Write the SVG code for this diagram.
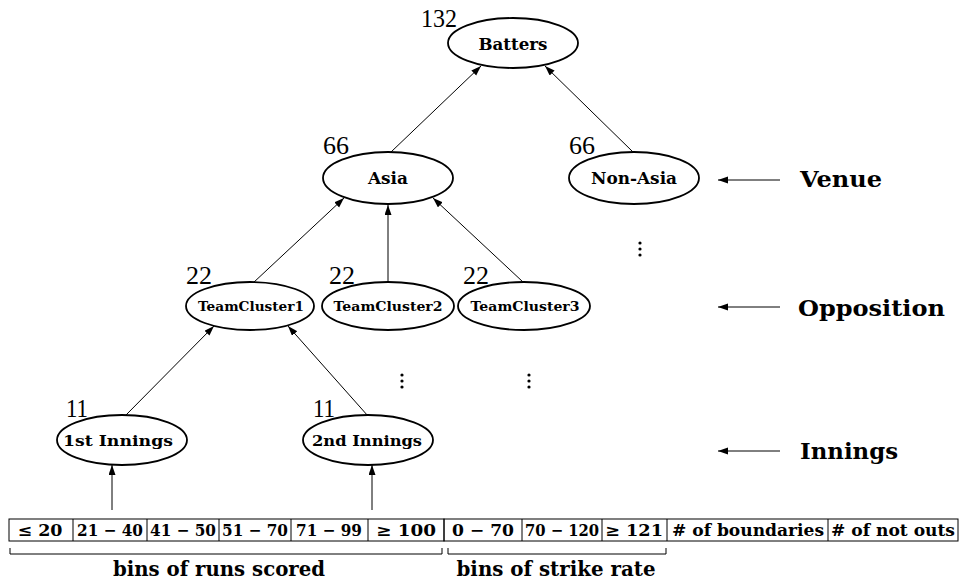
<svg xmlns="http://www.w3.org/2000/svg" width="959" height="581" viewBox="0 0 959 581">
<style>
.node{fill:#fff;stroke:#000;stroke-width:1.8}
.lbl{font-family:"DejaVu Serif","Liberation Serif",serif;font-weight:bold;fill:#000;text-anchor:middle}
.num{font-family:"Liberation Serif","DejaVu Serif",serif;font-size:25px;fill:#000}
.edge{stroke:#000;stroke-width:1;fill:none;marker-end:url(#ah)}
.cell{fill:none;stroke:#000;stroke-width:1}
.ct{font-family:"DejaVu Serif","Liberation Serif",serif;font-weight:bold;font-size:16px;fill:#000;text-anchor:middle}
.br{font-family:"DejaVu Serif","Liberation Serif",serif;font-weight:bold;font-size:20px;fill:#000;text-anchor:middle}
.side{font-family:"DejaVu Serif","Liberation Serif",serif;font-weight:bold;font-size:22px;fill:#000}
.dot{fill:#000}
</style>
<defs>
<marker id="ah" markerUnits="userSpaceOnUse" markerWidth="10" markerHeight="8" refX="10" refY="3.5" orient="auto">
<path d="M0,0 L10,3.5 L0,7 z" fill="#000"/>
</marker>
</defs>
<rect width="959" height="581" fill="#fff"/>
<g id="connectors">
<line class="edge" x1="391" y1="152" x2="481" y2="66"/>
<line class="edge" x1="633" y1="152" x2="545" y2="66"/>
<line class="edge" x1="253" y1="283" x2="344" y2="198"/>
<line class="edge" x1="388" y1="282" x2="388" y2="205"/>
<line class="edge" x1="523" y1="282" x2="433" y2="198"/>
<line class="edge" x1="125" y1="416" x2="214" y2="326"/>
<line class="edge" x1="368" y1="416" x2="288" y2="326"/>
<line class="edge" x1="112" y1="510" x2="112" y2="465"/>
<line class="edge" x1="372" y1="510" x2="372" y2="465"/>
<line class="edge" x1="780" y1="180" x2="718" y2="180"/>
<line class="edge" x1="780" y1="307" x2="718" y2="307"/>
<line class="edge" x1="780" y1="451" x2="718" y2="451"/>
</g>
<g id="batters">
<ellipse class="node" cx="513" cy="43" rx="65" ry="25"/>
<text class="lbl" x="513" y="50" font-size="16" textLength="69" lengthAdjust="spacingAndGlyphs">Batters</text>
<text class="num" x="421" y="27" textLength="36" lengthAdjust="spacingAndGlyphs">132</text>
</g>
<g id="asia">
<ellipse class="node" cx="388" cy="178" rx="65" ry="26"/>
<text class="lbl" x="388" y="184" font-size="16" textLength="40" lengthAdjust="spacingAndGlyphs">Asia</text>
<text class="num" x="323" y="154" textLength="26" lengthAdjust="spacingAndGlyphs">66</text>
</g>
<g id="nonasia">
<ellipse class="node" cx="634" cy="178" rx="65" ry="26"/>
<text class="lbl" x="634" y="184" font-size="16" textLength="86" lengthAdjust="spacingAndGlyphs">Non-Asia</text>
<text class="num" x="569" y="154" textLength="26" lengthAdjust="spacingAndGlyphs">66</text>
</g>
<g id="tc1">
<ellipse class="node" cx="250" cy="306" rx="64" ry="24"/>
<text class="lbl" x="251" y="311" font-size="12.5" textLength="106" lengthAdjust="spacingAndGlyphs">TeamCluster1</text>
<text class="num" x="186" y="284" textLength="26" lengthAdjust="spacingAndGlyphs">22</text>
</g>
<g id="tc2">
<ellipse class="node" cx="388" cy="306" rx="66" ry="24"/>
<text class="lbl" x="388" y="311" font-size="12.5" textLength="109" lengthAdjust="spacingAndGlyphs">TeamCluster2</text>
<text class="num" x="329" y="284" textLength="26" lengthAdjust="spacingAndGlyphs">22</text>
</g>
<g id="tc3">
<ellipse class="node" cx="524" cy="306" rx="66" ry="24"/>
<text class="lbl" x="525" y="311" font-size="12.5" textLength="109" lengthAdjust="spacingAndGlyphs">TeamCluster3</text>
<text class="num" x="463" y="284" textLength="26" lengthAdjust="spacingAndGlyphs">22</text>
</g>
<g id="inn1">
<ellipse class="node" cx="122" cy="440" rx="65" ry="25"/>
<text class="lbl" x="118" y="446" font-size="15" textLength="110" lengthAdjust="spacingAndGlyphs">1st Innings</text>
<text class="num" x="66" y="417" textLength="22" lengthAdjust="spacingAndGlyphs">11</text>
</g>
<g id="inn2">
<ellipse class="node" cx="368" cy="440" rx="65" ry="25"/>
<text class="lbl" x="367" y="446" font-size="15" textLength="110" lengthAdjust="spacingAndGlyphs">2nd Innings</text>
<text class="num" x="313" y="417" textLength="22" lengthAdjust="spacingAndGlyphs">11</text>
</g>
<g id="dots">
<circle class="dot" cx="640" cy="243" r="1.6"/><circle class="dot" cx="640" cy="249" r="1.6"/><circle class="dot" cx="640" cy="255" r="1.6"/>
<circle class="dot" cx="402" cy="375" r="1.6"/><circle class="dot" cx="402" cy="381" r="1.6"/><circle class="dot" cx="402" cy="387" r="1.6"/>
<circle class="dot" cx="529" cy="375" r="1.6"/><circle class="dot" cx="529" cy="381" r="1.6"/><circle class="dot" cx="529" cy="387" r="1.6"/>
</g>
<g id="levels">
<text class="side" x="800" y="187" textLength="82" lengthAdjust="spacingAndGlyphs">Venue</text>
<text class="side" x="798" y="316" textLength="147" lengthAdjust="spacingAndGlyphs">Opposition</text>
<text class="side" x="800" y="459" textLength="98" lengthAdjust="spacingAndGlyphs">Innings</text>
</g>
<g id="table">
<rect class="cell" x="9" y="519" width="435" height="22"/>
<rect class="cell" x="444" y="519" width="514" height="22"/>
<line class="cell" x1="73" y1="519" x2="73" y2="541"/>
<line class="cell" x1="147" y1="519" x2="147" y2="541"/>
<line class="cell" x1="219" y1="519" x2="219" y2="541"/>
<line class="cell" x1="291" y1="519" x2="291" y2="541"/>
<line class="cell" x1="368" y1="519" x2="368" y2="541"/>
<line class="cell" x1="522" y1="519" x2="522" y2="541"/>
<line class="cell" x1="602" y1="519" x2="602" y2="541"/>
<line class="cell" x1="667" y1="519" x2="667" y2="541"/>
<line class="cell" x1="828" y1="519" x2="828" y2="541"/>
<text class="ct" x="40" y="536" textLength="45" lengthAdjust="spacingAndGlyphs">≤ 20</text>
<text class="ct" x="110" y="536" textLength="66" lengthAdjust="spacingAndGlyphs">21 − 40</text>
<text class="ct" x="183" y="536" textLength="66" lengthAdjust="spacingAndGlyphs">41 − 50</text>
<text class="ct" x="255" y="536" textLength="66" lengthAdjust="spacingAndGlyphs">51 − 70</text>
<text class="ct" x="329" y="536" textLength="66" lengthAdjust="spacingAndGlyphs">71 − 99</text>
<text class="ct" x="406" y="536" textLength="60" lengthAdjust="spacingAndGlyphs">≥ 100</text>
<text class="ct" x="483" y="536" textLength="62" lengthAdjust="spacingAndGlyphs">0 − 70</text>
<text class="ct" x="562" y="536" textLength="74" lengthAdjust="spacingAndGlyphs">70 − 120</text>
<text class="ct" x="634" y="536" textLength="58" lengthAdjust="spacingAndGlyphs">≥ 121</text>
<text class="ct" x="748" y="536" textLength="152" lengthAdjust="spacingAndGlyphs"># of boundaries</text>
<text class="ct" x="893" y="536" textLength="124" lengthAdjust="spacingAndGlyphs"># of not outs</text>
</g>
<g id="brackets">
<path class="cell" d="M10,548 V554 H442 V548"/>
<path class="cell" d="M448,548 V554 H666 V548"/>
<text class="br" x="219" y="576" textLength="212" lengthAdjust="spacingAndGlyphs">bins of runs scored</text>
<text class="br" x="556" y="576" textLength="199" lengthAdjust="spacingAndGlyphs">bins of strike rate</text>
</g>
</svg>
